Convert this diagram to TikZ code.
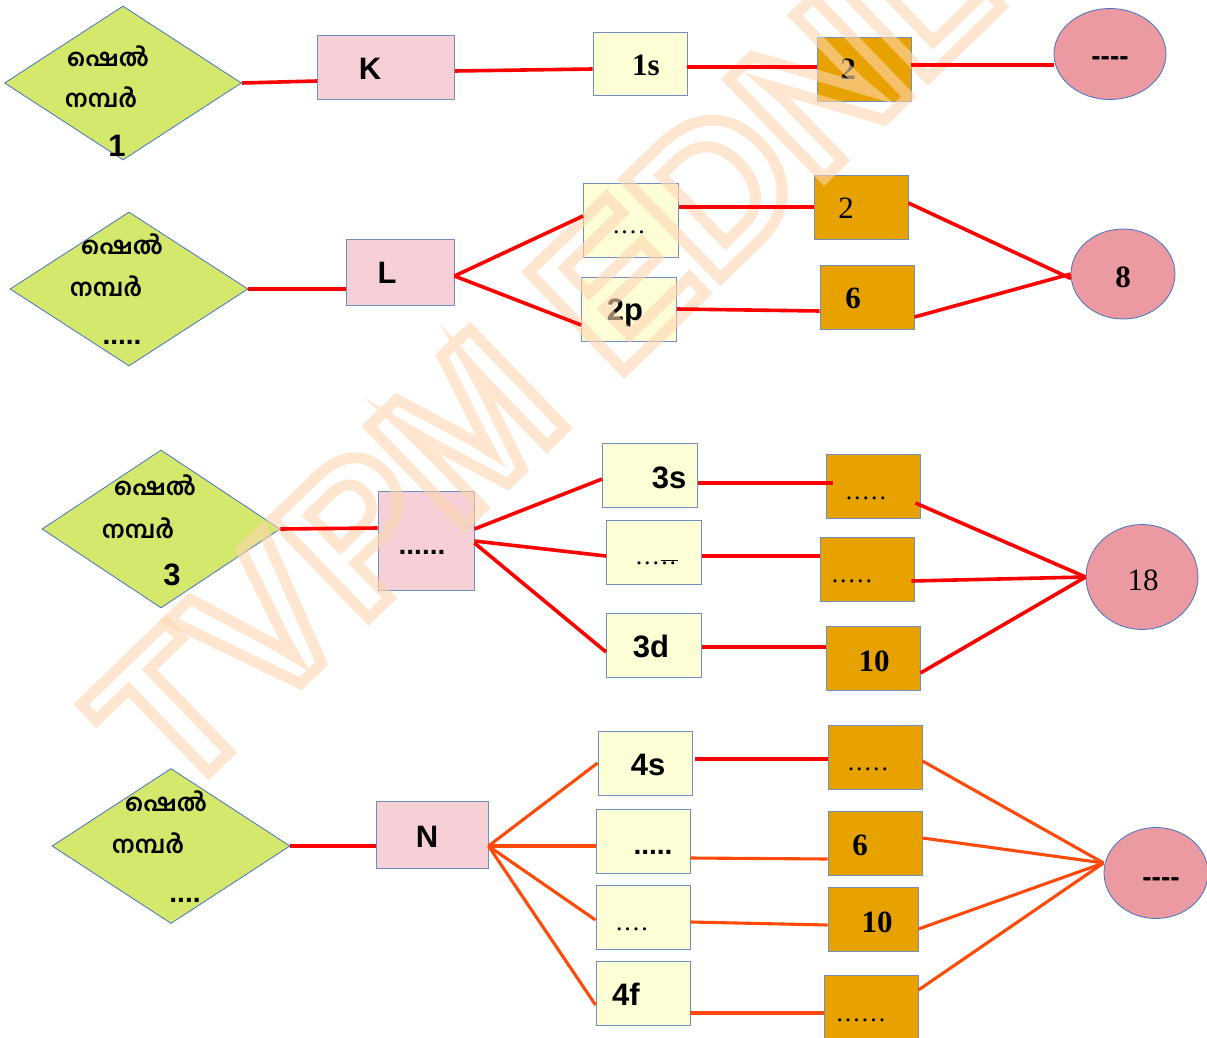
\documentclass[tikz,border=0pt]{standalone}
\usepackage{fontspec}
\setmainfont{Liberation Serif}
\setsansfont{Liberation Sans}
\newfontfamily\mlfont[Script=Malayalam]{Hind Kochi}
\usetikzlibrary{shapes.geometric,calc}
\definecolor{dgreen}{HTML}{D4E86C}
\definecolor{pinkbox}{HTML}{F6D0D6}
\definecolor{yelbox}{HTML}{FDFDD6}
\definecolor{orbox}{HTML}{E8A200}
\definecolor{ellc}{HTML}{EB9AA2}
\definecolor{bord}{HTML}{6F8FC0}
\definecolor{ebord}{HTML}{4472C4}
\definecolor{redl}{HTML}{FF0000}
\definecolor{orl}{HTML}{FF4A0A}
\definecolor{wmark}{HTML}{FDD6B0}
\newcommand\dt{.\kern2pt}
\newcommand\hy{\mbox{-}}
\newcommand\outlinetxt[1]{\special{pdf:literal direct 1 Tr 11 w}#1\special{pdf:literal direct 0 Tr 0.4 w}}
\begin{document}
\begin{tikzpicture}[x=1pt,y=-1pt,
  sz/.style 2 args={minimum width=#1pt,minimum height=#2pt},
  diam/.style={diamond,draw=ebord,fill=dgreen,line width=0.8pt,inner sep=0pt,shape aspect=1.54},
  pbox/.style={rectangle,draw=bord,fill=pinkbox,line width=0.9pt,inner sep=0pt},
  ybox/.style={rectangle,draw=bord,fill=yelbox,line width=0.9pt,inner sep=0pt},
  obox/.style={rectangle,draw=bord,fill=orbox,line width=0.9pt,inner sep=0pt},
  ell/.style={ellipse,draw=ebord,fill=ellc,line width=0.8pt,inner sep=0pt},
  ml/.style={font=\mlfont\bfseries\fontsize{24}{24}\selectfont,inner sep=0pt},
  sb/.style={font=\sffamily\bfseries\fontsize{31}{31}\selectfont,inner sep=0pt,anchor=base},
  rb/.style={font=\bfseries\fontsize{31}{31}\selectfont,inner sep=0pt,anchor=base},
  rr/.style={font=\fontsize{31}{31}\selectfont,inner sep=0pt,anchor=base},
  dots/.style={font=\fontsize{26}{26}\selectfont,inner sep=0pt,anchor=base},
  sdots/.style={font=\sffamily\bfseries\fontsize{28}{28}\selectfont,inner sep=0pt,anchor=base},
  rl/.style={draw=redl,line width=3.6pt},
  ol/.style={draw=orl,line width=3.1pt}]
\useasboundingbox (0,0) rectangle (1207,1038);
% ---------- Row 1 ----------
\node[diam,sz={237}{154}] (d1) at (123,83) {};
\node[ml] (d1a) at (108,56) {ഷെൽ};
\node[ml] (d1b) at (101,97) {നമ്പർ};
\node[sb] (d1c) at (117,157) {1};
\node[pbox,sz={137}{64}] (K) at (386,67) {};
\node[sb] (Kt) at (370,80) {K};
\node[ybox,sz={94}{63}] (s1) at (640,64) {};
\node[rb] (s1t) at (646,76) {1s};
\node[obox,sz={94}{64}] (o11) at (864,69) {};
\node[rb] (o11t) at (848,80) {2};
\node[ell,sz={112}{91}] (e1) at (1110,54) {};
\node[sdots] (e1t) at (1110,66) {\hy\hy\hy\hy};
% ---------- Row 2 ----------
\node[diam,sz={238}{154}] (d2) at (129,289) {};
\node[ml] (d2a) at (122,244) {ഷെൽ};
\node[ml] (d2b) at (106,286) {നമ്പർ};
\node[sdots] (d2c) at (122,344) {.....};
\node[pbox,sz={108}{66}] (L) at (400,272) {};
\node[sb] (Lt) at (387,283) {L};
\node[ybox,sz={95}{74}] (p2a) at (631,220) {};
\node[dots] (p2at) at (630,233) {\dt\dt\dt\dt};
\node[ybox,sz={95}{64}] (p2b) at (629,309) {};
\node[sb] (p2bt) at (625,320) {2p};
\node[obox,sz={94}{64}] (o21) at (861,207) {};
\node[rr] (o21t) at (846,218) {2};
\node[obox,sz={94}{64}] (o22) at (867,297) {};
\node[rb] (o22t) at (853,308) {6};
\node[ell,sz={104}{90}] (e2) at (1123,274) {};
\node[rb] (e2t) at (1123,287) {8};
% ---------- Row 3 ----------
\node[diam,sz={238}{158}] (d3) at (161,529) {};
\node[ml] (d3a) at (155,485) {ഷെൽ};
\node[ml] (d3b) at (138,528) {നമ്പർ};
\node[sb] (d3c) at (172,585) {3};
\node[pbox,sz={96}{99}] (M3) at (426,541) {};
\node[sdots] (M3t) at (422,554) {......};
\node[ybox,sz={95}{64}] (p3) at (654,552) {};
\node[ybox,sz={95}{64}] (s3) at (650,475) {};
\node[sb] (s3t) at (669,488) {3s};
\node[dots] (p3t) at (657,564) {\dt\dt\dt$\overline{\hbox{\dt\dt}}$};
\node[ybox,sz={95}{64}] (d3d) at (654,645) {};
\node[sb] (d3dt) at (651,657) {3d};
\node[obox,sz={94}{64}] (o31) at (873,486) {};
\node[dots] (o31t) at (867,499) {\dt\dt\dt\dt\dt};
\node[obox,sz={94}{64}] (o32) at (867,569) {};
\node[dots] (o32t) at (853,582) {\dt\dt\dt\dt\dt};
\node[obox,sz={94}{64}] (o33) at (873,658) {};
\node[rb] (o33t) at (874,671) {10};
\node[ell,sz={112}{105}] (e3) at (1142,577) {};
\node[rr] (e3t) at (1143,590) {18};
% ---------- Row 4 ----------
\node[diam,sz={238}{155}] (d4) at (171,846) {};
\node[ml] (d4a) at (166,801) {ഷെൽ};
\node[ml] (d4b) at (148,843) {നമ്പർ};
\node[sdots] (d4c) at (185,902) {....};
\node[pbox,sz={112}{67}] (N) at (432,835) {};
\node[sb] (Nt) at (427,847) {N};
\node[ybox,sz={94}{64}] (s4) at (645,763) {};
\node[sb] (s4t) at (648,775) {4s};
\node[ybox,sz={94}{64}] (p4a) at (643,841) {};
\node[sdots] (p4at) at (653,854) {.....};
\node[ybox,sz={94}{64}] (p4b) at (643,917) {};
\node[dots] (p4bt) at (633,930) {\dt\dt\dt\dt};
\node[ybox,sz={94}{64}] (f4) at (643,993) {};
\node[sb] (f4t) at (626,1005) {4f};
\node[obox,sz={94}{64}] (o41) at (875,757) {};
\node[dots] (o41t) at (869,770) {\dt\dt\dt\dt\dt};
\node[obox,sz={94}{64}] (o42) at (875,843) {};
\node[rb] (o42t) at (860,855) {6};
\node[obox,sz={90}{64}] (o43) at (873,919) {};
\node[rb] (o43t) at (877,932) {10};
\node[obox,sz={94}{66}] (o44) at (871,1008) {};
\node[dots] (o44t) at (862,1021) {\dt\dt\dt\dt\dt\dt};
\node[ell,sz={104}{91}] (e4) at (1156,873) {};
\node[sdots] (e4t) at (1161,886) {\hy\hy\hy\hy};
% ---------- watermark ----------
\node[rotate=44,anchor=base west,text=wmark,opacity=0.6,inner sep=0pt,font=\sffamily\bfseries\fontsize{200}{200}\selectfont] (wm) at (175,805) {\outlinetxt{TVPM EDNL}};
% ---------- connectors ----------
\draw[rl] (d1.east) -- ([yshift=-14pt]K.west);
\draw[rl] ([yshift=-4pt]K.east) -- ([yshift=-5pt]s1.west);
\draw[rl] ([yshift=-3pt]s1.east) -- ([yshift=2pt]o11.west);
\draw[rl] ([yshift=4pt]o11.east) -- (e1.west |- 0,65);
\draw[rl] (d2.east) -- ([yshift=-17pt]L.west);
\draw[rl] ([yshift=-4pt]L.east) -- ([yshift=4pt]p2a.west);
\draw[rl] ([yshift=-4pt]L.east) -- ([yshift=-16pt]p2b.west);
\draw[rl] ([yshift=13pt]p2a.east) -- (o21.west);
\draw[rl] (p2b.east) -- ([yshift=-14pt]o22.west);
\draw[rl] ([yshift=4pt]o21.east) -- (e2.185);
\draw[rl] ([yshift=-20pt]o22.east) -- (e2.west);
\draw[rl] (d3.east) -- ([yshift=13pt]M3.west);
\draw[rl] ([yshift=12pt]M3.east) -- ([yshift=-4pt]s3.west);
\draw[rl] (M3.east) -- ([yshift=-4pt]p3.west);
\draw[rl] ([yshift=-2pt]M3.east) -- ([yshift=-7pt]p3.west |- d3d.west);
\draw[rl] ([yshift=-8pt]s3.east) -- ([xshift=7pt,yshift=3pt]o31.west);
\draw[rl] ([yshift=-4pt]p3.east) -- ([yshift=13pt]o32.west);
\draw[rl] ([yshift=-2pt]d3d.east) -- ([yshift=11pt]o33.west);
\draw[rl] ([xshift=-5pt,yshift=-17pt]o31.east) -- (e3.west);
\draw[rl] ([xshift=-3pt,yshift=-12pt]o32.east) -- (e3.west);
\draw[rl] ([yshift=-15pt]o33.east) -- (e3.west);
\draw[rl] (d4.east) -- ([yshift=-11pt]N.west);
\draw[ol] ([yshift=-11pt]N.east) -- (s4.west);
\draw[ol] ([yshift=-11pt]N.east) -- ([yshift=-5pt]p4a.west);
\draw[ol] ([yshift=-11pt]N.east) -- ([yshift=-3pt]p4b.west);
\draw[ol] ([yshift=-11pt]N.east) -- ([yshift=-12pt]f4.west);
\draw[rl] ([xshift=3pt,yshift=4pt]s4.east) -- ([yshift=-2pt]o41.west);
\draw[ol] ([yshift=-17pt]p4a.east) -- ([yshift=-16pt]o42.west);
\draw[ol] ([yshift=-5pt]p4b.east) -- ([yshift=-6pt]o43.west);
\draw[ol] ([yshift=-20pt]f4.east) -- ([yshift=-5pt]o44.west);
\draw[ol] ([yshift=-4pt]o41.east) -- ([yshift=10pt]e4.west);
\draw[ol] ([yshift=5pt]o42.east) -- ([yshift=10pt]e4.west);
\draw[ol] ([yshift=-10pt]o43.east) -- ([yshift=10pt]e4.west);
\draw[ol] ([yshift=18pt]o44.east) -- ([yshift=10pt]e4.west);
\end{tikzpicture}
\end{document}
